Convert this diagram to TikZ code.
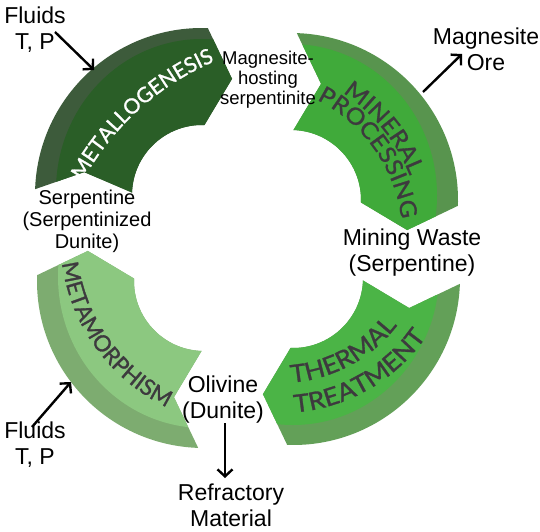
\documentclass[tikz,border=0pt]{standalone}
\usepackage{fontspec}
\newfontfamily\labfont{Liberation Sans}
\newfontfamily\arcfont{Lato}[FakeBold=1.2]
\newfontfamily\arcwidefont{Lato}[FakeBold=1.2,FakeStretch=1.08]
\usetikzlibrary{calc,decorations.text,arrows.meta}
\definecolor{mgB}{HTML}{3D5B3B}
\definecolor{mgF}{HTML}{2A5E27}
\definecolor{mpB}{HTML}{58944E}
\definecolor{mpF}{HTML}{40AA3A}
\definecolor{ttB}{HTML}{63A058}
\definecolor{ttF}{HTML}{4BB446}
\definecolor{meB}{HTML}{7DAC70}
\definecolor{meF}{HTML}{8CC880}
\definecolor{arctext}{HTML}{3D3A3E}
\newcommand\arcW{\arcfont\fontsize{21pt}{21pt}\selectfont\color{white}}
\newcommand\arcD{\arcfont\fontsize{22.5pt}{22.5pt}\selectfont\color{arctext}}
\newcommand\arcM{\arcwidefont\fontsize{23pt}{23pt}\selectfont\color{arctext}}
\newcommand\arcL{\arcwidefont\fontsize{24.5pt}{24.5pt}\selectfont\color{arctext}}
\tikzset{
  lab/.style={font=\labfont\fontsize{23pt}{26pt}\selectfont, align=center, inner sep=0pt},
  smalllab/.style={font=\labfont\fontsize{18.5pt}{20pt}\selectfont, align=center, inner sep=0pt},
  midlab/.style={font=\labfont\fontsize{20pt}{22pt}\selectfont, align=center, inner sep=0pt},
  flow/.style={line width=2.4pt, -{Straight Barb[length=7pt,width=15pt]}},
  pics/cyc/.style n args={4}{code={
    \pgfmathsetmacro\cycTa{#1}
    \pgfmathsetmacro\cycHa{#1-90}
    \pgfmathsetmacro\cycTip{#1-102.5}
    \pgfmathsetmacro\cycNotch{#1-#2}
    \begin{scope}
      \clip (\cycTa:167pt) arc[start angle=\cycTa,end angle=\cycHa,radius=167pt]
        -- (\cycTip:120pt) -- (\cycHa:70pt)
        arc[start angle=\cycHa,end angle=\cycTa,radius=70pt]
        -- (\cycNotch:120pt) -- cycle;
      \fill[#3] (-200pt,-200pt) rectangle (200pt,200pt);
      \fill[#4] (0pt,4.5pt) ellipse[x radius=146pt, y radius=151.5pt];
    \end{scope}
  }}
}
\begin{document}
\begin{tikzpicture}[x=1pt,y=1pt]
\useasboundingbox (0,0) rectangle (540,531);
\fill[white] (0,0) rectangle (540,531);
% cycle arrows
\pic at (202,336) {cyc={178}{9}{mgB}{mgF}};
\pic at (291,331) {cyc={88}{12.5}{mpB}{mpF}};
\pic at (293,253) {cyc={-2}{12.5}{ttB}{ttF}};
\pic at (204,250) {cyc={-92}{12.5}{meB}{meF}};
% text on the arcs
\coordinate (G) at (247.5,292.5);
\coordinate (Gm) at (320,221);
\coordinate (T) at (280,296);
\path[decorate,decoration={text along path,text align=center,text={|\arcW|METALLOGENESIS}}]
  ($(Gm)+(172.2:270pt)$) arc[start angle=172.2,end angle=92.2,radius=270pt];
\path[decorate,decoration={text along path,text align=center,text={|\arcM|MINERAL}}]
  ($(G)+(84:174pt)$) arc[start angle=84,end angle=-6,radius=174pt];
\path[decorate,decoration={text along path,text align=center,text={|\arcM|PROCESSING}}]
  ($(G)+(80.3:155pt)$) arc[start angle=80.3,end angle=-9.7,radius=155pt];
\path[decorate,decoration={text along path,text align=center,text={|\arcD|METAMORPHISM}}]
  ($(G)+(171:187pt)$) arc[start angle=171,end angle=261,radius=187pt];
\path[decorate,decoration={text along path,text align=center,text={|\arcL|THERMAL}}]
  ($(T)+(-106.6:148pt)$) arc[start angle=-106.6,end angle=-16.6,radius=148pt];
\path[decorate,decoration={text along path,text align=center,text={|\arcL|TREATMENT}}]
  ($(T)+(-105:178pt)$) arc[start angle=-105,end angle=-15,radius=178pt];
% labels
\node[lab] (fl1) at (35,501) {Fluids\\T, P};
\node[lab] (mo) at (486,482) {Magnesite\\Ore};
\node[smalllab] (mhs) at (268,451) {Magnesite-\\hosting\\serpentinite};
\node[midlab] (sp) at (87,310) {Serpentine\\(Serpentinized\\Dunite)};
\node[lab] (mw) at (412,278) {Mining Waste\\(Serpentine)};
\node[lab] (ol) at (223,131) {Olivine\\(Dunite)};
\node[lab] (rm) at (231,26) {Refractory\\Material};
\node[lab] (fl2) at (35,86) {Fluids\\T, P};
% connectors
\coordinate (a1s) at (55,499);
\coordinate (a1e) at (94,461);
\coordinate (a2s) at (423,439);
\coordinate (a2e) at (462,477);
\coordinate (a3s) at (32,104);
\coordinate (a3e) at (71,149);
\coordinate (a4s) at (225,108);
\coordinate (a4e) at (225,53);
\draw[flow] (a1s) -- (a1e);
\draw[flow] (a2s) -- (a2e);
\draw[flow] (a3s) -- (a3e);
\draw[flow] (a4s) -- (a4e);
\end{tikzpicture}
\end{document}
